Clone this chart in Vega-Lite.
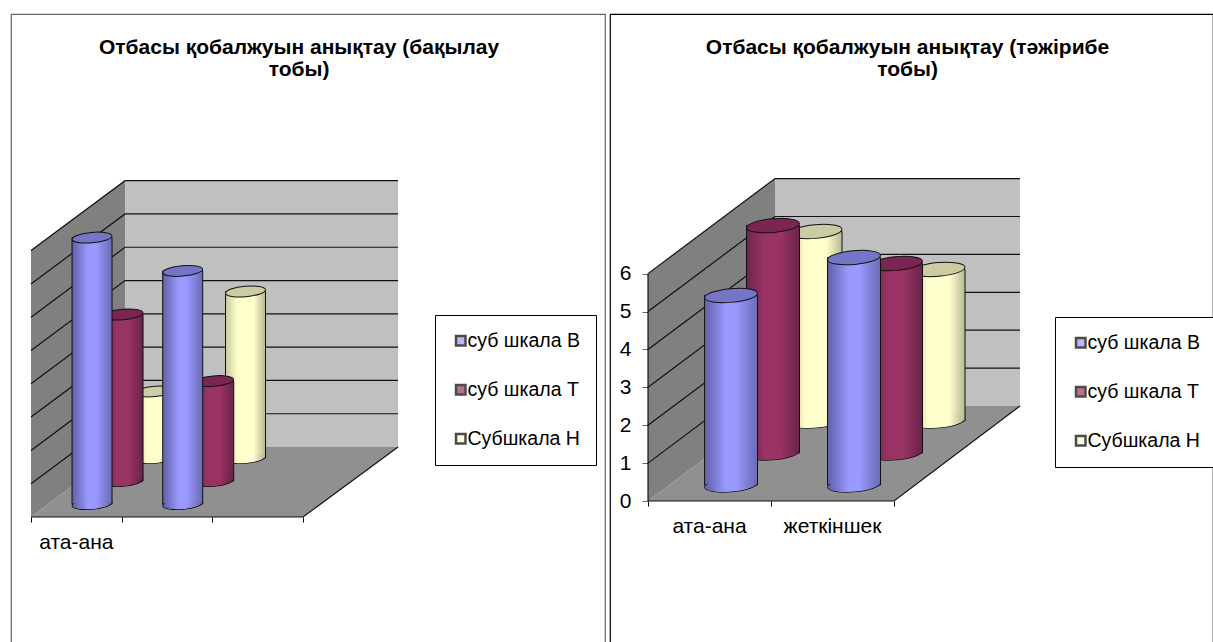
{"$schema":"https://vega.github.io/schema/vega-lite/v6.json","background":"white","padding":{"left":10,"top":13,"right":0,"bottom":0},"spacing":3,"resolve":{"scale":{"color":"independent","x":"independent","y":"independent"},"legend":{"color":"independent"}},
"config":{"font":"Liberation Sans","legend":{"labelFont":"Liberation Sans","labelFontSize":19.5,"labelColor":"black","symbolType":"square","symbolSize":90,"symbolStrokeColor":"black","symbolStrokeWidth":2.5,"strokeColor":"black","fillColor":"white","padding":16,"rowPadding":28,"labelOffset":-3},"axis":{"labelFont":"Liberation Sans","labelFontSize":21,"labelColor":"black","tickColor":"#666666","grid":false,"domain":false,"title":null},"title":{"font":"Liberation Sans","fontSize":21,"fontWeight":"bold","color":"black","lineHeight":22}},
"datasets":{
"leftBars":[{"series":"суб шкала В","x":0.5,"y":8},{"series":"суб шкала Т","x":0.5,"y":5},{"series":"Субшкала Н","x":0.5,"y":2},{"series":"суб шкала В","x":1.5,"y":7},{"series":"суб шкала Т","x":1.5,"y":3},{"series":"Субшкала Н","x":1.5,"y":5}],
"rightBars":[{"series":"суб шкала В","x":0.5,"y":5},{"series":"суб шкала Т","x":0.5,"y":6},{"series":"Субшкала Н","x":0.5,"y":5},{"series":"суб шкала В","x":1.5,"y":6},{"series":"суб шкала Т","x":1.5,"y":5},{"series":"Субшкала Н","x":1.5,"y":4}],
"leftGrid":[{"level":1,"x":0,"y":1},{"level":1,"x":1.037,"y":3.1},{"level":1,"x":4.048,"y":3.1},{"level":2,"x":0,"y":2},{"level":2,"x":1.037,"y":4.1},{"level":2,"x":4.048,"y":4.1},{"level":3,"x":0,"y":3},{"level":3,"x":1.037,"y":5.1},{"level":3,"x":4.048,"y":5.1},{"level":4,"x":0,"y":4},{"level":4,"x":1.037,"y":6.1},{"level":4,"x":4.048,"y":6.1},{"level":5,"x":0,"y":5},{"level":5,"x":1.037,"y":7.1},{"level":5,"x":4.048,"y":7.1},{"level":6,"x":0,"y":6},{"level":6,"x":1.037,"y":8.1},{"level":6,"x":4.048,"y":8.1},{"level":7,"x":0,"y":7},{"level":7,"x":1.037,"y":9.1},{"level":7,"x":4.048,"y":9.1},{"level":8,"x":0,"y":8},{"level":8,"x":1.037,"y":10.1},{"level":8,"x":4.048,"y":10.1},{"level":0,"x":0,"y":0},{"level":0,"x":3,"y":0},{"level":0,"x":4.048,"y":2.1}],
"rightGrid":[{"level":1,"x":0,"y":1},{"level":1,"x":1.0325,"y":3.507},{"level":1,"x":3.024,"y":3.507},{"level":2,"x":0,"y":2},{"level":2,"x":1.0325,"y":4.507},{"level":2,"x":3.024,"y":4.507},{"level":3,"x":0,"y":3},{"level":3,"x":1.0325,"y":5.507},{"level":3,"x":3.024,"y":5.507},{"level":4,"x":0,"y":4},{"level":4,"x":1.0325,"y":6.507},{"level":4,"x":3.024,"y":6.507},{"level":5,"x":0,"y":5},{"level":5,"x":1.0325,"y":7.507},{"level":5,"x":3.024,"y":7.507},{"level":6,"x":0,"y":6},{"level":6,"x":1.0325,"y":8.507},{"level":6,"x":3.024,"y":8.507},{"level":0,"x":0,"y":0},{"level":0,"x":2,"y":0},{"level":0,"x":3.024,"y":2.507},{"level":-1,"x":0,"y":0},{"level":-1,"x":0,"y":6}]
},
"hconcat":[
{"width":594,"height":630,"view":{"stroke":"#666666","strokeWidth":1.2,"fill":"white"},
"title":{"text":["Отбасы қобалжуын анықтау (бақылау","тобы)"],"anchor":"middle","frame":"group","dx":-9,"offset":-66,"lineHeight":22},
"encoding":{"x":{"field":"x","type":"quantitative","scale":{"domain":[-0.2206,6.3307],"nice":false,"zero":false,"padding":0},"axis":{"orient":"bottom","offset":-127,"values":[0,1,2,3],"labelExpr":"''","tickSize":5,"tickColor":"black"}},"y":{"field":"y","type":"quantitative","scale":{"domain":[-3.814,15.105],"nice":false,"zero":false},"axis":null}},
"layer":[
{"data":{"name":"leftBars"},"mark":{"type":"square","size":1},"encoding":{"color":{"field":"series","type":"nominal","scale":{"domain":["суб шкала В","суб шкала Т","Субшкала Н"],"range":["#9999ff","#993366","#ffffcc"]},"legend":{"orient":"none","legendX":424,"legendY":301,"title":null}}}},
{"data":{"values":[{"x":1.037,"y":10.1,"y2":2.1},{"x":4.048,"y":10.1,"y2":2.1}]},"mark":{"type":"area","color":"#c0c0c0"},"encoding":{"y2":{"field":"y2"}}},
{"data":{"values":[{"x":0,"y":8,"y2":0},{"x":1.037,"y":10.1,"y2":2.1}]},"mark":{"type":"area","color":"#808080"},"encoding":{"y2":{"field":"y2"}}},
{"data":{"values":[{"x":0,"y":0,"y2":0},{"x":1.037,"y":2.1,"y2":0},{"x":3,"y":2.1,"y2":0},{"x":4.048,"y":2.1,"y2":2.1}]},"mark":{"type":"area","color":"#909090"},"encoding":{"y2":{"field":"y2"}}},
{"data":{"name":"leftGrid"},"mark":{"type":"line","color":"#111111","strokeWidth":1.2},"encoding":{"detail":{"field":"level"}}},
{"data":{"values":[{"x":0.5,"label":"ата-ана","y":-0.78}]},"mark":{"type":"text","fontSize":21,"color":"black"},"encoding":{"text":{"field":"label"}}},
{"data":{"name":"leftBars"},"transform":[{"filter":"datum.series=='Субшкала Н'"}],"layer":[
{"mark":{"type":"point","filled":true,"shape":"M-1,0A1,0.26 0 1,1 1,0A1,0.26 0 1,1 -1,0Z","size":1600,"angle":-5,"xOffset":78.5,"yOffset":-59,"fill":"#d8d8ac","stroke":"#111111","strokeWidth":1,"opacity":1},"encoding":{"y":{"datum":0,"type":"quantitative","scale":{"domain":[-3.814,15.105],"nice":false,"zero":false}}}},
{"mark":{"type":"bar","orient":"vertical","width":40,"xOffset":78.5,"yOffset":-59,"y2Offset":-59,"stroke":"#111111","strokeWidth":1,"fill":{"gradient":"linear","x1":0,"y1":0,"x2":1,"y2":0,"stops":[{"offset":0,"color":"#c8c8a0"},{"offset":0.3,"color":"#ffffcc"},{"offset":0.7,"color":"#ffffcc"},{"offset":1,"color":"#b8b894"}]}},"encoding":{"y2":{"datum":0}}},
{"mark":{"type":"point","filled":true,"shape":"M-1,0A1,0.26 0 1,1 1,0A1,0.26 0 1,1 -1,0Z","size":1444,"angle":-5,"xOffset":78.5,"yOffset":-59,"strokeWidth":0,"opacity":1,"fill":{"gradient":"linear","x1":0,"y1":0,"x2":1,"y2":0,"stops":[{"offset":0,"color":"#c8c8a0"},{"offset":0.3,"color":"#ffffcc"},{"offset":0.7,"color":"#ffffcc"},{"offset":1,"color":"#b8b894"}]}},"encoding":{"y":{"datum":0,"type":"quantitative","scale":{"domain":[-3.814,15.105],"nice":false,"zero":false}}}},
{"mark":{"type":"point","filled":true,"shape":"M-1,0A1,0.26 0 1,1 1,0A1,0.26 0 1,1 -1,0Z","size":1600,"angle":-5,"xOffset":78.5,"yOffset":-59,"fill":"#cccca3","stroke":"#111111","strokeWidth":1,"opacity":1}}
]},
{"data":{"name":"leftBars"},"transform":[{"filter":"datum.series=='суб шкала Т'"}],"layer":[
{"mark":{"type":"point","filled":true,"shape":"M-1,0A1,0.26 0 1,1 1,0A1,0.26 0 1,1 -1,0Z","size":1600,"angle":-5,"xOffset":46.7,"yOffset":-36,"fill":"#8a2a5a","stroke":"#111111","strokeWidth":1,"opacity":1},"encoding":{"y":{"datum":0,"type":"quantitative","scale":{"domain":[-3.814,15.105],"nice":false,"zero":false}}}},
{"mark":{"type":"bar","orient":"vertical","width":40,"xOffset":46.7,"yOffset":-36,"y2Offset":-36,"stroke":"#111111","strokeWidth":1,"fill":{"gradient":"linear","x1":0,"y1":0,"x2":1,"y2":0,"stops":[{"offset":0,"color":"#6e2549"},{"offset":0.35,"color":"#993366"},{"offset":0.65,"color":"#993366"},{"offset":1,"color":"#6a2347"}]}},"encoding":{"y2":{"datum":0}}},
{"mark":{"type":"point","filled":true,"shape":"M-1,0A1,0.26 0 1,1 1,0A1,0.26 0 1,1 -1,0Z","size":1444,"angle":-5,"xOffset":46.7,"yOffset":-36,"strokeWidth":0,"opacity":1,"fill":{"gradient":"linear","x1":0,"y1":0,"x2":1,"y2":0,"stops":[{"offset":0,"color":"#6e2549"},{"offset":0.35,"color":"#993366"},{"offset":0.65,"color":"#993366"},{"offset":1,"color":"#6a2347"}]}},"encoding":{"y":{"datum":0,"type":"quantitative","scale":{"domain":[-3.814,15.105],"nice":false,"zero":false}}}},
{"mark":{"type":"point","filled":true,"shape":"M-1,0A1,0.26 0 1,1 1,0A1,0.26 0 1,1 -1,0Z","size":1600,"angle":-5,"xOffset":46.7,"yOffset":-36,"fill":"#7a2552","stroke":"#111111","strokeWidth":1,"opacity":1}}
]},
{"data":{"name":"leftBars"},"transform":[{"filter":"datum.series=='суб шкала В'"}],"layer":[
{"mark":{"type":"point","filled":true,"shape":"M-1,0A1,0.26 0 1,1 1,0A1,0.26 0 1,1 -1,0Z","size":1600,"angle":-5,"xOffset":15.7,"yOffset":-13,"fill":"#8888e0","stroke":"#111111","strokeWidth":1,"opacity":1},"encoding":{"y":{"datum":0,"type":"quantitative","scale":{"domain":[-3.814,15.105],"nice":false,"zero":false}}}},
{"mark":{"type":"bar","orient":"vertical","width":40,"xOffset":15.7,"yOffset":-13,"y2Offset":-13,"stroke":"#111111","strokeWidth":1,"fill":{"gradient":"linear","x1":0,"y1":0,"x2":1,"y2":0,"stops":[{"offset":0,"color":"#6060a8"},{"offset":0.4,"color":"#9999ff"},{"offset":0.6,"color":"#9999ff"},{"offset":1,"color":"#6a6ab4"}]}},"encoding":{"y2":{"datum":0}}},
{"mark":{"type":"point","filled":true,"shape":"M-1,0A1,0.26 0 1,1 1,0A1,0.26 0 1,1 -1,0Z","size":1444,"angle":-5,"xOffset":15.7,"yOffset":-13,"strokeWidth":0,"opacity":1,"fill":{"gradient":"linear","x1":0,"y1":0,"x2":1,"y2":0,"stops":[{"offset":0,"color":"#6060a8"},{"offset":0.4,"color":"#9999ff"},{"offset":0.6,"color":"#9999ff"},{"offset":1,"color":"#6a6ab4"}]}},"encoding":{"y":{"datum":0,"type":"quantitative","scale":{"domain":[-3.814,15.105],"nice":false,"zero":false}}}},
{"mark":{"type":"point","filled":true,"shape":"M-1,0A1,0.26 0 1,1 1,0A1,0.26 0 1,1 -1,0Z","size":1600,"angle":-5,"xOffset":15.7,"yOffset":-13,"fill":"#7575c8","stroke":"#111111","strokeWidth":1,"opacity":1}}
]}
]},
{"width":603,"height":630,"view":{"stroke":"black","strokeWidth":1.2,"fill":"white"},
"title":{"text":["Отбасы қобалжуын анықтау (тәжірибе","тобы)"],"anchor":"middle","frame":"group","dx":-4,"offset":-66,"lineHeight":22},
"encoding":{"x":{"field":"x","type":"quantitative","scale":{"domain":[-0.309,4.593],"nice":false,"zero":false,"padding":0},"axis":{"orient":"bottom","offset":-143,"values":[0,1,2],"labelExpr":"''","tickSize":5,"tickColor":"black"}},"y":{"field":"y","type":"quantitative","scale":{"domain":[-3.773,12.85],"nice":false,"zero":false},"axis":{"orient":"left","offset":-38,"values":[0,1,2,3,4,5,6],"tickSize":6,"tickColor":"#666666","labelPadding":11}}},
"layer":[
{"data":{"name":"rightBars"},"mark":{"type":"square","size":1},"encoding":{"color":{"field":"series","type":"nominal","scale":{"domain":["суб шкала В","суб шкала Т","Субшкала Н"],"range":["#9999ff","#993366","#ffffcc"]},"legend":{"orient":"none","legendX":445,"legendY":303,"title":null}}}},
{"data":{"values":[{"x":1.0325,"y":8.507,"y2":2.507},{"x":3.024,"y":8.507,"y2":2.507}]},"mark":{"type":"area","color":"#c0c0c0"},"encoding":{"y2":{"field":"y2"}}},
{"data":{"values":[{"x":0,"y":6,"y2":0},{"x":1.0325,"y":8.507,"y2":2.507}]},"mark":{"type":"area","color":"#808080"},"encoding":{"y2":{"field":"y2"}}},
{"data":{"values":[{"x":0,"y":0,"y2":0},{"x":1.0325,"y":2.507,"y2":0},{"x":2,"y":2.507,"y2":0},{"x":3.024,"y":2.507,"y2":2.507}]},"mark":{"type":"area","color":"#909090"},"encoding":{"y2":{"field":"y2"}}},
{"data":{"name":"rightGrid"},"mark":{"type":"line","color":"#111111","strokeWidth":1.2},"encoding":{"detail":{"field":"level"}}},
{"data":{"values":[{"x":0.5,"label":"ата-ана","y":-0.686},{"x":1.5,"label":"жеткіншек","y":-0.686}]},"mark":{"type":"text","fontSize":21,"color":"black"},"encoding":{"text":{"field":"label"}}},
{"data":{"name":"rightBars"},"transform":[{"filter":"datum.series=='Субшкала Н'"}],"layer":[
{"mark":{"type":"point","filled":true,"shape":"M-1,0A1,0.26 0 1,1 1,0A1,0.26 0 1,1 -1,0Z","size":2809,"angle":-5,"xOffset":106,"yOffset":-80,"fill":"#d8d8ac","stroke":"#111111","strokeWidth":1,"opacity":1},"encoding":{"y":{"datum":0,"type":"quantitative","scale":{"domain":[-3.773,12.85],"nice":false,"zero":false}}}},
{"mark":{"type":"bar","orient":"vertical","width":53,"xOffset":106,"yOffset":-80,"y2Offset":-80,"stroke":"#111111","strokeWidth":1,"fill":{"gradient":"linear","x1":0,"y1":0,"x2":1,"y2":0,"stops":[{"offset":0,"color":"#c8c8a0"},{"offset":0.3,"color":"#ffffcc"},{"offset":0.7,"color":"#ffffcc"},{"offset":1,"color":"#b8b894"}]}},"encoding":{"y2":{"datum":0}}},
{"mark":{"type":"point","filled":true,"shape":"M-1,0A1,0.26 0 1,1 1,0A1,0.26 0 1,1 -1,0Z","size":2601,"angle":-5,"xOffset":106,"yOffset":-80,"strokeWidth":0,"opacity":1,"fill":{"gradient":"linear","x1":0,"y1":0,"x2":1,"y2":0,"stops":[{"offset":0,"color":"#c8c8a0"},{"offset":0.3,"color":"#ffffcc"},{"offset":0.7,"color":"#ffffcc"},{"offset":1,"color":"#b8b894"}]}},"encoding":{"y":{"datum":0,"type":"quantitative","scale":{"domain":[-3.773,12.85],"nice":false,"zero":false}}}},
{"mark":{"type":"point","filled":true,"shape":"M-1,0A1,0.26 0 1,1 1,0A1,0.26 0 1,1 -1,0Z","size":2809,"angle":-5,"xOffset":106,"yOffset":-80,"fill":"#cccca3","stroke":"#111111","strokeWidth":1,"opacity":1}}
]},
{"data":{"name":"rightBars"},"transform":[{"filter":"datum.series=='суб шкала Т'"}],"layer":[
{"mark":{"type":"point","filled":true,"shape":"M-1,0A1,0.26 0 1,1 1,0A1,0.26 0 1,1 -1,0Z","size":2809,"angle":-5,"xOffset":63.5,"yOffset":-48,"fill":"#8a2a5a","stroke":"#111111","strokeWidth":1,"opacity":1},"encoding":{"y":{"datum":0,"type":"quantitative","scale":{"domain":[-3.773,12.85],"nice":false,"zero":false}}}},
{"mark":{"type":"bar","orient":"vertical","width":53,"xOffset":63.5,"yOffset":-48,"y2Offset":-48,"stroke":"#111111","strokeWidth":1,"fill":{"gradient":"linear","x1":0,"y1":0,"x2":1,"y2":0,"stops":[{"offset":0,"color":"#6e2549"},{"offset":0.35,"color":"#993366"},{"offset":0.65,"color":"#993366"},{"offset":1,"color":"#6a2347"}]}},"encoding":{"y2":{"datum":0}}},
{"mark":{"type":"point","filled":true,"shape":"M-1,0A1,0.26 0 1,1 1,0A1,0.26 0 1,1 -1,0Z","size":2601,"angle":-5,"xOffset":63.5,"yOffset":-48,"strokeWidth":0,"opacity":1,"fill":{"gradient":"linear","x1":0,"y1":0,"x2":1,"y2":0,"stops":[{"offset":0,"color":"#6e2549"},{"offset":0.35,"color":"#993366"},{"offset":0.65,"color":"#993366"},{"offset":1,"color":"#6a2347"}]}},"encoding":{"y":{"datum":0,"type":"quantitative","scale":{"domain":[-3.773,12.85],"nice":false,"zero":false}}}},
{"mark":{"type":"point","filled":true,"shape":"M-1,0A1,0.26 0 1,1 1,0A1,0.26 0 1,1 -1,0Z","size":2809,"angle":-5,"xOffset":63.5,"yOffset":-48,"fill":"#7a2552","stroke":"#111111","strokeWidth":1,"opacity":1}}
]},
{"data":{"name":"rightBars"},"transform":[{"filter":"datum.series=='суб шкала В'"}],"layer":[
{"mark":{"type":"point","filled":true,"shape":"M-1,0A1,0.26 0 1,1 1,0A1,0.26 0 1,1 -1,0Z","size":2809,"angle":-5,"xOffset":21.5,"yOffset":-16,"fill":"#8888e0","stroke":"#111111","strokeWidth":1,"opacity":1},"encoding":{"y":{"datum":0,"type":"quantitative","scale":{"domain":[-3.773,12.85],"nice":false,"zero":false}}}},
{"mark":{"type":"bar","orient":"vertical","width":53,"xOffset":21.5,"yOffset":-16,"y2Offset":-16,"stroke":"#111111","strokeWidth":1,"fill":{"gradient":"linear","x1":0,"y1":0,"x2":1,"y2":0,"stops":[{"offset":0,"color":"#6060a8"},{"offset":0.4,"color":"#9999ff"},{"offset":0.6,"color":"#9999ff"},{"offset":1,"color":"#6a6ab4"}]}},"encoding":{"y2":{"datum":0}}},
{"mark":{"type":"point","filled":true,"shape":"M-1,0A1,0.26 0 1,1 1,0A1,0.26 0 1,1 -1,0Z","size":2601,"angle":-5,"xOffset":21.5,"yOffset":-16,"strokeWidth":0,"opacity":1,"fill":{"gradient":"linear","x1":0,"y1":0,"x2":1,"y2":0,"stops":[{"offset":0,"color":"#6060a8"},{"offset":0.4,"color":"#9999ff"},{"offset":0.6,"color":"#9999ff"},{"offset":1,"color":"#6a6ab4"}]}},"encoding":{"y":{"datum":0,"type":"quantitative","scale":{"domain":[-3.773,12.85],"nice":false,"zero":false}}}},
{"mark":{"type":"point","filled":true,"shape":"M-1,0A1,0.26 0 1,1 1,0A1,0.26 0 1,1 -1,0Z","size":2809,"angle":-5,"xOffset":21.5,"yOffset":-16,"fill":"#7575c8","stroke":"#111111","strokeWidth":1,"opacity":1}}
]}
]}
]}
